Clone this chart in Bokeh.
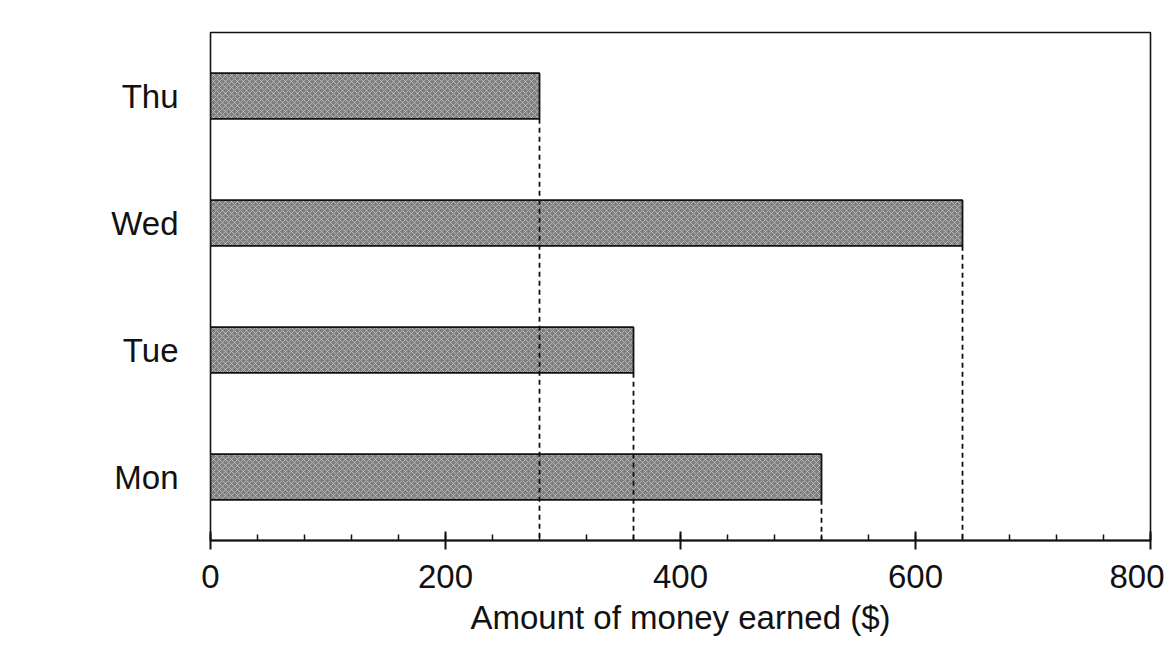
from bokeh.plotting import figure
from bokeh.models import FixedTicker
from bokeh.embed import file_html
from bokeh.resources import INLINE

days = ["Mon", "Tue", "Wed", "Thu"]
earned = [520, 360, 640, 280]
x_ticks = [0, 200, 400, 600, 800]
minor = list(range(0, 801, 40))

FONT = "Liberation Sans"

p = figure(y_range=days, x_range=(0, 800), width=1164, height=648,
           output_backend="svg", toolbar_location=None,
           min_border_left=210, min_border_right=14,
           min_border_top=32, min_border_bottom=108)

p.hbar(y=days, right=earned, left=0, height=0.36,
       fill_color="#7f7f7f", line_color="#111111", line_width=1.8,
       hatch_pattern="x", hatch_color="#d8d8d8", hatch_alpha=0.6,
       hatch_scale=6, hatch_weight=1)

# dashed drop lines from each bar end down to the axis
p.segment(x0=earned, y0=[(d, -0.18) for d in days],
          x1=earned, y1=[("Mon", -0.5)] * len(days),
          line_color="#111111", line_width=1.8, line_dash="5 4")

p.xgrid.visible = False
p.ygrid.visible = False
p.outline_line_color = "#111111"
p.outline_line_width = 1.6

xa = p.xaxis[0]
xa.ticker = FixedTicker(ticks=x_ticks, minor_ticks=minor)
xa.axis_label = "Amount of money earned ($)"
xa.axis_label_text_font = FONT
xa.axis_label_text_font_size = "33px"
xa.axis_label_text_font_style = "normal"
xa.axis_label_text_color = "#111111"
xa.axis_label_standoff = 8
xa.major_label_text_font = FONT
xa.major_label_text_font_size = "33px"
xa.major_label_text_color = "#111111"
xa.major_label_standoff = 15
xa.axis_line_color = "#111111"
xa.axis_line_width = 2
xa.major_tick_line_color = "#111111"
xa.major_tick_line_width = 2
xa.major_tick_in = 9
xa.major_tick_out = 9
xa.minor_tick_line_color = "#111111"
xa.minor_tick_line_width = 1.5
xa.minor_tick_in = 6
xa.minor_tick_out = 0

ya = p.yaxis[0]
ya.axis_line_color = None
ya.major_tick_line_color = None
ya.minor_tick_line_color = None
ya.major_label_text_font = FONT
ya.major_label_text_font_size = "33px"
ya.major_label_text_color = "#111111"
ya.major_label_standoff = 26

open("out.html", "w").write(file_html(p, INLINE))
